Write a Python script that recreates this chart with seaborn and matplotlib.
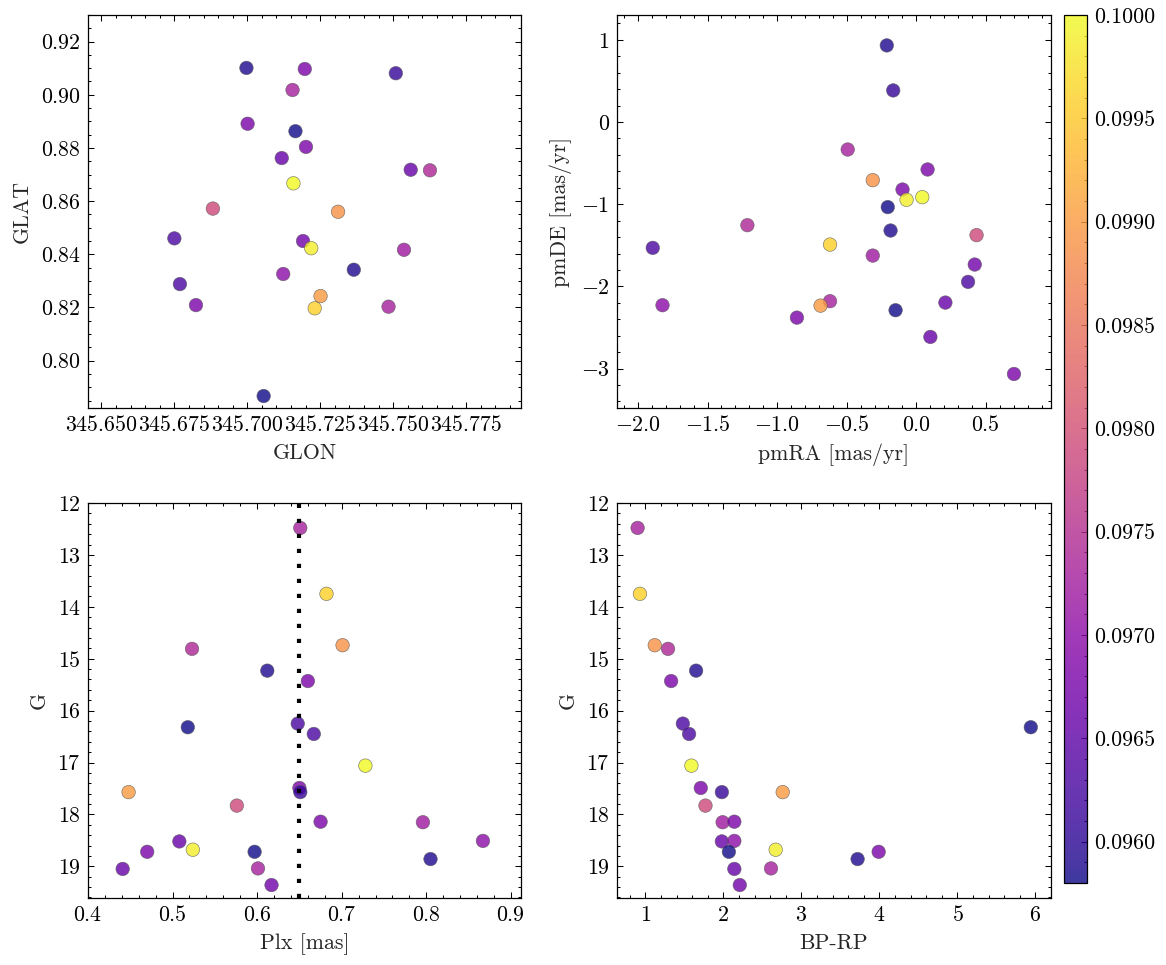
import numpy as np
import pandas as pd
import matplotlib
matplotlib.use("Agg")
import matplotlib.pyplot as plt
from matplotlib.ticker import MultipleLocator, FormatStrFormatter
import seaborn as sns


# =======================================================
# Data: 25 cluster member candidates
# =======================================================

# colour value (membership-like quantity)
prob = [0.0973, 0.0996, 0.0989, 0.0974, 0.0959, 0.0968, 0.0963, 0.0963, 0.1000, 0.0968,
        0.0961, 0.0979, 0.0972, 0.0968, 0.0966, 0.0970, 0.0958, 0.0966, 0.0967, 0.0973,
        0.0999, 0.0990, 0.0959, 0.0968, 0.0958]

glon = [345.7155, 345.7231, 345.7311, 345.7626, 345.6997, 345.7197, 345.6769, 345.6750, 345.7158, 345.7001,
        345.7509, 345.6882, 345.7537, 345.7201, 345.7118, 345.7123, 345.7165, 345.7560, 345.7191, 345.7484,
        345.7219, 345.7251, 345.7365, 345.6824, 345.7056]
glat = [0.9018, 0.8197, 0.8560, 0.8716, 0.9101, 0.9097, 0.8288, 0.8460, 0.8667, 0.8891,
        0.9081, 0.8572, 0.8417, 0.8804, 0.8762, 0.8326, 0.8863, 0.8718, 0.8450, 0.8203,
        0.8423, 0.8243, 0.8342, 0.8209, 0.7867]

pmra = [-0.493, -0.620, -0.313, -1.214, -0.212, 0.081, -1.894, 0.372, 0.043, -0.099,
        -0.166, 0.433, -0.313, -0.858, 0.209, -1.824, -0.205, 0.101, 0.420, -0.620,
        -0.070, -0.688, -0.185, 0.702, -0.149]
pmde = [-0.334, -1.491, -0.707, -1.255, 0.933, -0.577, -1.531, -1.945, -0.914, -0.821,
        0.385, -1.376, -1.625, -2.380, -2.197, -2.229, -1.035, -2.615, -1.734, -2.180,
        -0.946, -2.234, -1.320, -3.066, -2.290]

plx = [0.651, 0.682, 0.701, 0.523, 0.612, 0.660, 0.648, 0.667, 0.728, 0.650,
       0.651, 0.576, 0.796, 0.675, 0.508, 0.867, 0.597, 0.441, 0.617, 0.601,
       0.524, 0.448, 0.805, 0.470, 0.518]
gmag = [12.48, 13.75, 14.74, 14.81, 15.23, 15.43, 16.25, 16.45, 17.06, 17.49,
        17.57, 17.83, 18.15, 18.14, 18.52, 18.51, 18.72, 19.05, 19.36, 19.04,
        18.68, 17.57, 18.86, 18.72, 16.32]
bprp = [0.90, 0.93, 1.12, 1.29, 1.65, 1.33, 1.48, 1.56, 1.59, 1.71,
        1.98, 1.77, 1.99, 2.14, 1.98, 2.14, 2.07, 2.14, 2.21, 2.61,
        2.67, 2.76, 3.72, 3.99, 5.94]

plx_cut = 0.65

df = pd.DataFrame({"GLON": glon, "GLAT": glat, "pmRA": pmra, "pmDE": pmde,
                   "Plx": plx, "G": gmag, "BP-RP": bprp, "prob": prob})

# =======================================================
# Style
# =======================================================
sns.set_style("ticks")
plt.rcParams.update({
    "font.family": "serif",
    "font.serif": ["cmr10"],
    "mathtext.fontset": "cm",
    "axes.formatter.use_mathtext": True,
    "axes.unicode_minus": True,
    "font.size": 10.5,
    "axes.labelsize": 10.5,
    "xtick.labelsize": 10.5,
    "ytick.labelsize": 10.5,
    "axes.linewidth": 0.6,
    "axes.edgecolor": "black",
    "xtick.color": "black",
    "ytick.color": "black",
    "xtick.direction": "in",
    "ytick.direction": "in",
    "xtick.top": True,
    "ytick.right": True,
    "xtick.minor.visible": True,
    "ytick.minor.visible": True,
    "xtick.major.size": 3,
    "ytick.major.size": 3,
    "xtick.minor.size": 1.5,
    "ytick.minor.size": 1.5,
    "xtick.major.width": 0.5,
    "ytick.major.width": 0.5,
    "xtick.minor.width": 0.5,
    "ytick.minor.width": 0.5,
})

vmin, vmax = 0.0958, 0.1000
W, H = 1166, 965
fig = plt.figure(figsize=(W / 150, H / 150), dpi=150)


def px_axes(x0, y0, x1, y1):
    return fig.add_axes([x0 / W, 1 - y1 / H, (x1 - x0) / W, (y1 - y0) / H])


ax1 = px_axes(88, 15, 521, 408)
ax2 = px_axes(617, 15, 1051, 408)
ax3 = px_axes(88, 503, 521, 898)
ax4 = px_axes(617, 503, 1051, 898)
cax = px_axes(1064, 15, 1087, 883)

kw = dict(hue="prob", palette="plasma", hue_norm=(vmin, vmax), legend=False,
          s=42, alpha=0.8, edgecolor="0.35", linewidth=0.3)

# Plot 1: sky positions
sns.scatterplot(data=df, x="GLON", y="GLAT", ax=ax1, **kw)
ax1.set_xlim(345.6454, 345.7938)
ax1.set_ylim(0.7822, 0.9300)
ax1.xaxis.set_major_locator(MultipleLocator(0.025))
ax1.xaxis.set_major_formatter(FormatStrFormatter("%.3f"))
ax1.yaxis.set_major_locator(MultipleLocator(0.02))
ax1.set_xlabel("GLON")
ax1.set_ylabel("GLAT")

# Plot 2: proper motions
sns.scatterplot(data=df, x="pmRA", y="pmDE", ax=ax2, **kw)
ax2.set_xlim(-2.151, 0.968)
ax2.set_ylim(-3.48, 1.303)
ax2.xaxis.set_major_locator(MultipleLocator(0.5))
ax2.yaxis.set_major_locator(MultipleLocator(1))
ax2.set_xlabel("pmRA [mas/yr]")
ax2.set_ylabel("pmDE [mas/yr]")

# Plot 3: parallax vs magnitude
sns.scatterplot(data=df, x="Plx", y="G", ax=ax3, **kw)
ax3.axvline(plx_cut, color="black", lw=2, ls=(0, (1, 2.6)), zorder=5)
ax3.set_xlim(0.4, 0.912)
ax3.set_ylim(19.61, 12.0)
ax3.xaxis.set_major_locator(MultipleLocator(0.1))
ax3.yaxis.set_major_locator(MultipleLocator(1))
ax3.set_xlabel("Plx [mas]")
ax3.set_ylabel("G")

# Plot 4: colour-magnitude diagram
sns.scatterplot(data=df, x="BP-RP", y="G", ax=ax4, **kw)
ax4.set_xlim(0.636, 6.199)
ax4.set_ylim(19.61, 12.0)
ax4.xaxis.set_major_locator(MultipleLocator(1))
ax4.yaxis.set_major_locator(MultipleLocator(1))
ax4.set_xlabel("BP-RP")
ax4.set_ylabel("G")

for ax in (ax1, ax2, ax3, ax4):
    ax.minorticks_on()
    ax.tick_params(which="both", direction="in", top=True, right=True)

# colorbar
sm = plt.cm.ScalarMappable(cmap="plasma", norm=plt.Normalize(vmin, vmax))
cbar = fig.colorbar(sm, cax=cax, alpha=0.8)
cbar.set_ticks(np.arange(0.0960, 0.10001, 0.0005))
cbar.ax.yaxis.set_major_formatter(FormatStrFormatter("%.4f"))
cbar.ax.minorticks_on()
cbar.ax.tick_params(which="both", direction="in")
cbar.outline.set_linewidth(0.6)

fig.savefig("out.png", dpi=150)
